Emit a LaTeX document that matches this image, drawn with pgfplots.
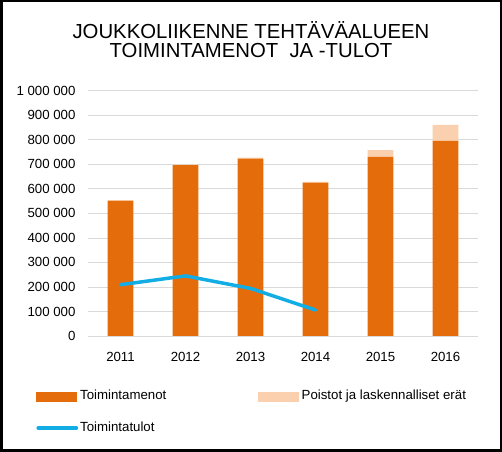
\documentclass[border=0pt]{standalone}
\usepackage{pgfplots}
\pgfplotsset{compat=1.18}
\usepackage{fontspec}
\setmainfont{Liberation Sans}
\definecolor{orng}{HTML}{E46C0A}
\definecolor{peach}{HTML}{FAD0AE}
\definecolor{lblue}{HTML}{13ADE6}
\definecolor{gridc}{HTML}{D9D9D9}
\pgfplotsset{common/.style={
  at={(88bp,116bp)}, anchor=south west, scale only axis,
  width=390bp, height=245.3bp,
  xmin=-0.5, xmax=5.5, ymin=0, ymax=1000000,
  axis line style={draw=none}, major tick length=0pt,
  scaled y ticks=false, clip=false,
}}
\begin{document}
\begin{tikzpicture}
\draw[line width=2.5bp] (1.25bp,1.25bp) rectangle (500.75bp,450.75bp);
\node[align=center, font=\fontsize{20.4}{19}\selectfont, inner sep=0pt] at (251bp,412bp) {JOUKKOLIIKENNE TEHTÄVÄALUEEN\\TOIMINTAMENOT\ \ JA -TULOT};
\begin{axis}[common,
  ybar stacked, bar width=25.7bp,
  xtick={0,1,2,3,4,5}, xticklabels={2011,2012,2013,2014,2015,2016},
  ytick={0,100000,200000,300000,400000,500000,600000,700000,800000,900000,1000000},
  yticklabels={0,100 000,200 000,300 000,400 000,500 000,600 000,700 000,800 000,900 000,1 000 000},
  ymajorgrids, grid style={gridc, line width=0.75bp},
  tick label style={font=\fontsize{13.3}{16}\selectfont},
  xticklabel style={yshift=-13bp}, yticklabel style={xshift=-9bp},
]
\addplot[fill=orng, draw=none] coordinates {(0,551000) (1,697000) (2,723000) (3,625000) (4,730000) (5,795000)};
\addplot[fill=peach, draw=none] coordinates {(0,3000) (1,2000) (2,4000) (3,3000) (4,28000) (5,66000)};
\end{axis}
\begin{axis}[common, hide axis,
  legend columns=2, legend cell align=left,
  legend style={at={(-0.1333,-0.21)}, anchor=north west, draw=none, fill=none, inner sep=0pt,
    font=\fontsize{13.3}{16}\selectfont, row sep=15bp,
    nodes={inner sep=2bp, text height=10bp, text depth=3bp},
    /tikz/every even column/.append style={column sep=90bp}},
]
\addlegendimage{legend image code/.code={\fill[orng] (0bp,-4.5bp) rectangle (40bp,4.5bp);}}
\addlegendentry{Toimintamenot}
\addlegendimage{legend image code/.code={\fill[peach] (0bp,-4.5bp) rectangle (40bp,4.5bp);}}
\addlegendentry{\hspace{1bp}Poistot ja laskennalliset erät}
\addplot[lblue, line width=3.5bp, line cap=round, line join=round, mark=none,
  legend image code/.code={\draw[lblue, line width=3.5bp, line cap=round] (1.75bp,0bp) -- (40bp,0bp);}]
  coordinates {(0,209000) (1,245000) (2,194000) (3,106000)};
\addlegendentry{Toimintatulot}
\end{axis}
\end{tikzpicture}
\end{document}
